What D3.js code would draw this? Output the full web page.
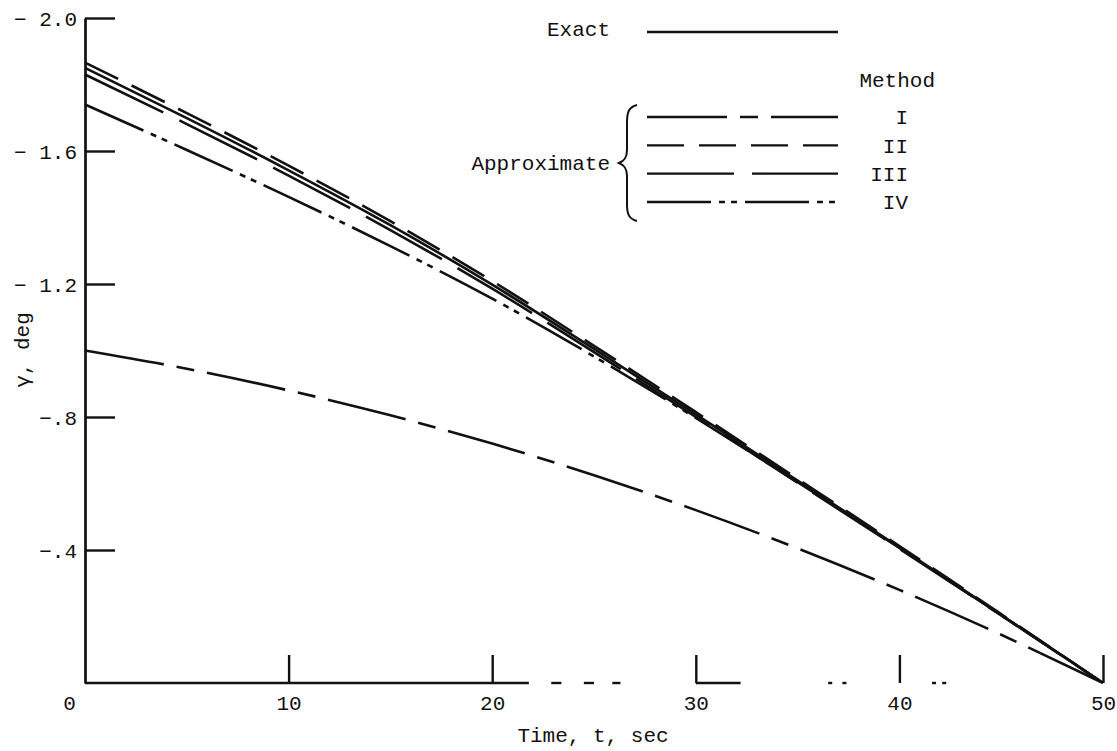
<!DOCTYPE html>
<html>
<head>
<meta charset="utf-8">
<script src="https://cdn.jsdelivr.net/npm/d3@7"></script>
<style>
  body { margin: 0; background: #fff; }
  svg { display: block; }
  text { font-family: "Liberation Mono", "DejaVu Sans Mono", monospace; fill: #111; }
</style>
</head>
<body>
<svg id="chart" width="1117" height="751"></svg>
<script>
// Flight-path angle histories, gamma (deg) against time (sec)
const timeSec        = [0, 5, 10, 15, 20, 25, 30, 35, 40, 45, 50];
const gammaExact     = [-1.850, -1.699, -1.542, -1.377, -1.198, -1.005, -0.808, -0.609, -0.408, -0.205, 0];
const gammaMethodI   = [-1.000, -0.945, -0.880, -0.805, -0.720, -0.625, -0.520, -0.405, -0.280, -0.145, 0];
const gammaMethodII  = [-1.866, -1.714, -1.556, -1.389, -1.209, -1.014, -0.815, -0.614, -0.412, -0.207, 0];
const gammaMethodIII = [-1.830, -1.681, -1.526, -1.362, -1.186, -0.995, -0.800, -0.602, -0.404, -0.203, 0];
const gammaMethodIV  = [-1.740, -1.603, -1.462, -1.314, -1.156, -0.982, -0.797, -0.604, -0.406, -0.204, 0];

const xTickValues = [0, 10, 20, 30, 40, 50];
const xTickLabels = ["0", "10", "20", "30", "40", "50"];
const yTickValues = [-2.0, -1.6, -1.2, -0.8, -0.4];
const yTickLabels = ["\u2212 2.0", "\u2212 1.6", "\u2212 1.2", "\u2212.8", "\u2212.4"];
const methodNames = ["I", "II", "III", "IV"];

// pieces of the time axis baseline that are inked (sec)
const baselineSegments = [[0, 21.8], [22.9, 23.4], [24.5, 25.0], [25.9, 26.3], [30, 32.2],
                          [36.5, 36.7], [37.2, 37.4], [41.6, 41.8], [42.1, 42.3]];

const svg = d3.select("#chart");
const x = d3.scaleLinear().domain([0, 50]).range([85, 1103]);
const y = d3.scaleLinear().domain([0, -2]).range([683, 18]);

const ink = "#111";

// line styles per series
const dashes = {
  exact: null,
  I: "80 13 18 13",
  II: "37 15",
  III: "87 18",
  IV: "64 8 6 6 6 8"
};

const series = [
  { key: "I",     values: gammaMethodI },
  { key: "IV",    values: gammaMethodIV },
  { key: "III",   values: gammaMethodIII },
  { key: "exact", values: gammaExact },
  { key: "II",    values: gammaMethodII }
];

// y axis (ticks point inward)
const yAxis = d3.axisLeft(y)
  .tickValues(yTickValues)
  .tickFormat((d, i) => yTickLabels[i])
  .tickSize(-30)
  .tickSizeOuter(0)
  .tickPadding(8);
const gy = svg.append("g").attr("transform", "translate(85,0)").call(yAxis);
gy.select(".domain").attr("stroke", ink).attr("stroke-width", 2.7);
gy.selectAll(".tick line").attr("stroke", ink).attr("stroke-width", 2.4);
gy.selectAll(".tick text").style("font-size", "21px").attr("fill", ink).attr("dy", "0.35em");

// x axis (ticks point upward)
const xAxis = d3.axisBottom(x)
  .tickValues(xTickValues)
  .tickFormat((d, i) => xTickLabels[i])
  .tickSize(-28)
  .tickSizeOuter(0)
  .tickPadding(12);
const gx = svg.append("g").attr("transform", "translate(0,683)").call(xAxis);
gx.select(".domain").remove();
gx.selectAll(".tick line").attr("stroke", ink).attr("stroke-width", 2.4)
  .attr("opacity", d => d === 0 ? 0 : 1);
gx.selectAll(".tick text").style("font-size", "21px").attr("fill", ink)
  .attr("dx", d => d === 0 ? -16 : 0);

svg.append("g").selectAll("line").data(baselineSegments).join("line")
  .attr("x1", d => x(d[0])).attr("x2", d => x(d[1]))
  .attr("y1", y(0)).attr("y2", y(0))
  .attr("stroke", ink).attr("stroke-width", 2.4);

// axis titles
svg.append("text")
  .attr("x", 593).attr("y", 742)
  .attr("text-anchor", "middle")
  .style("font-size", "21px")
  .text("Time, t, sec");

svg.append("text")
  .attr("transform", "translate(29,350) rotate(-90)")
  .attr("text-anchor", "middle")
  .style("font-size", "21px")
  .text("\u03b3, deg");

// curves
const line = d3.line()
  .x((d, i) => x(timeSec[i]))
  .y(d => y(d))
  .curve(d3.curveMonotoneX);

svg.append("g").selectAll("path").data(series).join("path")
  .attr("d", d => line(d.values))
  .attr("fill", "none")
  .attr("stroke", ink)
  .attr("stroke-width", 2.6)
  .attr("stroke-dasharray", d => dashes[d.key]);

// legend
const legend = svg.append("g");
const legX0 = 647, legX1 = 838;

legend.append("text").attr("x", 610).attr("y", 29).attr("dy", "0.35em")
  .attr("text-anchor", "end").style("font-size", "21px").text("Exact");
legend.append("line").attr("x1", legX0).attr("x2", legX1).attr("y1", 32).attr("y2", 32)
  .attr("stroke", ink).attr("stroke-width", 2.4);

legend.append("text").attr("x", 935).attr("y", 80).attr("dy", "0.35em")
  .attr("text-anchor", "end").style("font-size", "21px").text("Method");

const rowY = d3.scalePoint().domain(methodNames).range([117, 202]);

legend.selectAll("line.key").data(methodNames).join("line")
  .attr("class", "key")
  .attr("x1", legX0).attr("x2", legX1)
  .attr("y1", d => rowY(d)).attr("y2", d => rowY(d))
  .attr("stroke", ink).attr("stroke-width", 2.4)
  .attr("stroke-dasharray", d => dashes[d]);

legend.selectAll("text.num").data(methodNames).join("text")
  .attr("class", "num")
  .attr("x", 908).attr("y", d => rowY(d)).attr("dy", "0.35em")
  .attr("text-anchor", "end").style("font-size", "21px")
  .text(d => d);

legend.append("text").attr("x", 610).attr("y", 163).attr("dy", "0.35em")
  .attr("text-anchor", "end").style("font-size", "21px").text("Approximate");

// curly brace grouping the approximate methods
legend.append("path")
  .attr("d", "M637,105 C629,107 627,112 627,122 L627,150 C627,158 624,161 619,163 C624,165 627,168 627,176 L627,205 C627,214 629,219 637,221")
  .attr("fill", "none").attr("stroke", ink).attr("stroke-width", 2);
</script>
</body>
</html>
